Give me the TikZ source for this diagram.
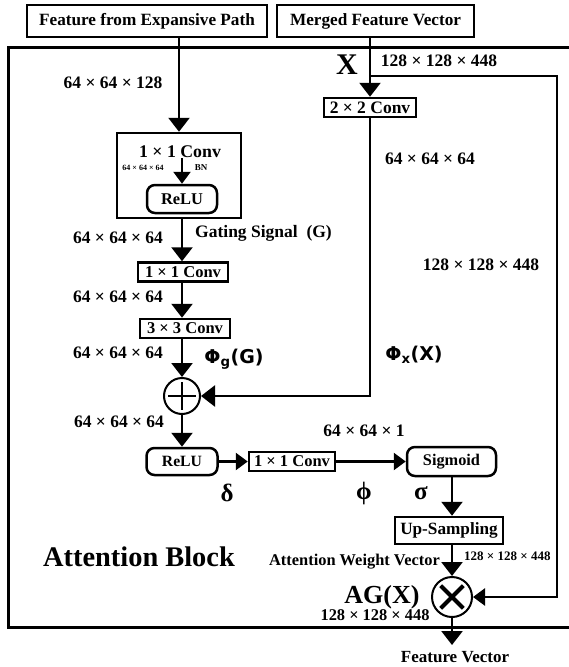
\documentclass[tikz,border=0pt]{standalone}
\usepackage{fontspec}
\setmainfont{Liberation Serif}
\newfontfamily\phifont{DejaVu Sans}
\usetikzlibrary{arrows.meta}
\newcommand{\fs}[1]{\fontsize{#1}{#1}\selectfont\bfseries}

\begin{document}
\begin{tikzpicture}
  [x=1pt,y=-1pt,
   box/.style={draw,line width=2.5pt,inner sep=0pt,font=\fs{16.5}},
   rbox/.style={box,rounded corners=8pt},
   dim/.style={inner sep=0pt,font=\fs{17.5}},
   greek/.style={inner sep=0pt,font=\fs{25}},
   phi/.style={inner sep=0pt,font=\phifont\fontsize{19}{19}\selectfont\bfseries},
   flow/.style={line width=2.5pt,-{Triangle[width=21pt,length=14pt]}},
   flowsmall/.style={line width=2.5pt,-{Triangle[width=17pt,length=12pt]}},
   ring/.style={circle,draw,line width=2pt,inner sep=0pt}]
\useasboundingbox (0,0) rectangle (568,667);
  % outer frame (right side runs off the page)
  \draw[line width=3pt] (8,47) rectangle (580,627);

  % inputs
  \node[box,minimum width=240pt,minimum height=32pt,font=\fs{17.2}] (expan) at (147,21) {Feature from Expansive Path};
  \node[box,minimum width=197pt,minimum height=32pt,font=\fs{17.2}] (merged) at (375.5,21) {Merged Feature Vector};

  % gating branch
  \node[box,minimum width=124pt,minimum height=85pt] (gate) at (179,175.5) {};
  \node[inner sep=0pt,font=\fs{17.8}] (gtext) at (180,152) {1 × 1 Conv};
  \node[rbox,minimum width=70pt,minimum height=28pt,font=\fs{16.4}] (relu1) at (182,199) {ReLU};
  \node[inner sep=0pt,font=\fs{8}] at (143,168) {64 × 64 × 64};
  \node[inner sep=0pt,font=\fs{9}] at (201,168) {BN};
  \node[box,minimum width=90pt,minimum height=19pt] (conv1) at (183,272) {1 × 1 Conv};
  \node[box,minimum width=90pt,minimum height=19pt] (conv3) at (185,328.5) {3 × 3 Conv};
  \node[ring,minimum size=36pt] (plus) at (182,396) {};
  \node[rbox,minimum width=71pt,minimum height=27pt,font=\fs{15.7}] (relu2) at (182,461.5) {ReLU};
  \node[box,minimum width=86pt,minimum height=19pt] (psi) at (292,461.5) {1 × 1 Conv};
  \node[rbox,minimum width=89pt,minimum height=29pt,font=\fs{16.3}] (sigm) at (451.5,461.5) {Sigmoid};
  \node[box,minimum width=108pt,minimum height=27pt,font=\fs{17.2}] (upsamp) at (449,530.5) {Up-Sampling};
  \node[ring,minimum size=40pt] (times) at (452,597) {};

  % skip branch
  \node[box,minimum width=92pt,minimum height=19pt,font=\fs{17.5}] (conv2) at (370,107.5) {2 × 2 Conv};
  \coordinate (split) at (370,76);
  \coordinate (corner) at (557,76);
  \coordinate (out) at (452,645);

  % labels
  \node[dim] at (113,83) {64 × 64 × 128};
  \node[dim] at (118,238) {64 × 64 × 64};
  \node[dim,anchor=west] at (195,233) {Gating Signal~~(G)};
  \node[dim] at (118,297) {64 × 64 × 64};
  \node[dim] at (118,353) {64 × 64 × 64};
  \node[dim] at (119,422) {64 × 64 × 64};
  \node[inner sep=0pt,font=\fs{30}] at (347,65) {X};
  \node[dim] at (439,61) {128 × 128 × 448};
  \node[dim] at (430,159) {64 × 64 × 64};
  \node[dim] at (481,265) {128 × 128 × 448};
  \node[phi] at (234,359) {Φ\textsubscript{g}(G)};
  \node[phi] at (414,355) {Φ\textsubscript{x}(X)};
  \node[dim] at (364,431) {64 × 64 × 1};
  \node[greek] at (227,493) {δ};
  \node[greek] at (364,493) {ϕ};
  \node[greek] at (421,493) {σ};
  \node[inner sep=0pt,font=\fs{28.4}] at (139,557) {Attention Block};
  \node[dim,anchor=east,font=\fs{16.4}] at (440,562) {Attention Weight Vector};
  \node[dim,anchor=west,font=\fs{13}] at (464,556) {128 × 128 × 448};
  \node[inner sep=0pt,font=\fs{26}] at (382,597) {AG(X)};
  \node[dim,font=\fs{16.4}] at (375,615) {128 × 128 × 448};
  \node[dim,font=\fs{17}] at (455,657) {Feature Vector};

  % connectors
  \draw[flow] (expan.south -| gate.north) -- (gate.north);
  \draw[flowsmall] (gtext.south -| relu1.north) -- (relu1.north);
  \draw[flow] (gate.south -| plus.north) -- (conv1.north -| plus.north);
  \draw[flow] (conv1.south -| plus.north) -- (conv3.north -| plus.north);
  \draw[flow] (conv3.south -| plus.north) -- (plus.north);
  \draw[flow] (plus) -- (relu2);
  \draw[flowsmall] (relu2) -- (psi);
  \draw[flowsmall] (psi) -- (sigm);
  \draw[flow] (sigm.south -| times.north) -- (upsamp.north -| times.north);
  \draw[flow] (upsamp.south -| times.north) -- (times.north);
  \draw[flow] (times) -- (out);
  \draw[flow] (merged.south -| conv2.north) -- (conv2.north);
  \draw[flow] (conv2) -- (conv2 |- plus) -- (plus);
  \draw[flowsmall] (split) -- (corner) -- (corner |- times) -- (times);

  % ring symbols
  \draw[line width=2pt,shorten <=5pt,shorten >=5pt] (plus.north) -- (plus.south);
  \draw[line width=2pt,shorten <=5pt,shorten >=5pt] (plus.west) -- (plus.east);
  \draw[line width=4pt,shorten <=5pt,shorten >=5pt] (times.north west) -- (times.south east);
  \draw[line width=4pt,shorten <=5pt,shorten >=5pt] (times.north east) -- (times.south west);
\end{tikzpicture}
\end{document}
